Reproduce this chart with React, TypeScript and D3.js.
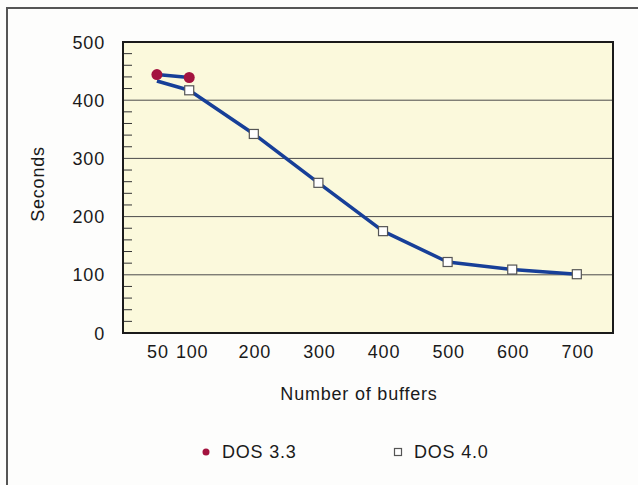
import React from "react";
import * as d3 from "d3";

const dos33Buffers = [50, 100];
const dos33Seconds = [444, 439];
const dos40Buffers = [50, 100, 200, 300, 400, 500, 600, 700];
const dos40Seconds = [433, 417, 342, 258, 175, 122, 109, 101];
const xTickValues = [50, 100, 200, 300, 400, 500, 600, 700];
const yTickValues = [0, 100, 200, 300, 400, 500];
const yMinorValues = d3.range(0, 500, 20).filter((v) => v % 100 !== 0);
const seriesNames = ["DOS 3.3", "DOS 4.0"];

const W = 638;
const H = 485;
const plot = { left: 123, top: 42, right: 613, bottom: 333 };
const FONT = "'Liberation Sans', Arial, Helvetica, sans-serif";
const FS = 18;
const LS = 0.8;

export default function App() {
  const x = d3.scaleLinear().domain([-2.5, 756]).range([plot.left, plot.right]);
  const y = d3.scaleLinear().domain([0, 500]).range([plot.bottom, plot.top]);
  const line = d3
    .line<[number, number]>()
    .x((d) => x(d[0]))
    .y((d) => y(d[1]))
    .curve(d3.curveLinear);
  const d33 = dos33Buffers.map((b, i) => [b, dos33Seconds[i]] as [number, number]);
  const d40 = dos40Buffers.map((b, i) => [b, dos40Seconds[i]] as [number, number]);
  const lineColor = "#173f98";
  const red = "#a3133f";
  const textColor = "#1a1a1a";

  return (
    <svg
      width={W}
      height={H}
      style={{ position: "absolute", left: 0, top: 0, background: "#fdfdfc" }}
      fontFamily={FONT}
    >
      {/* outer frame */}
      <path d={`M7,${H} L7,8 L${W},8`} fill="none" stroke="#555" strokeWidth={2} />
      {/* plot background */}
      <rect
        x={plot.left}
        y={plot.top}
        width={plot.right - plot.left}
        height={plot.bottom - plot.top}
        fill="#fbf9dc"
      />
      {/* grid */}
      {yTickValues
        .filter((v) => v > 0 && v < 500)
        .map((v) => (
          <line key={v} x1={plot.left} x2={plot.right} y1={y(v)} y2={y(v)} stroke="#4a4a4a" strokeWidth={1} />
        ))}
      {/* minor ticks */}
      {yMinorValues.map((v) => (
        <line key={v} x1={plot.left} x2={plot.left + 9} y1={y(v)} y2={y(v)} stroke="#333" strokeWidth={1} />
      ))}
      <rect
        x={plot.left}
        y={plot.top}
        width={plot.right - plot.left}
        height={plot.bottom - plot.top}
        fill="none"
        stroke="#1a1a1a"
        strokeWidth={2}
      />
      {/* y labels */}
      {yTickValues.map((v) => (
        <text key={v} x={105} y={y(v) + 6.5} textAnchor="end" fontSize={FS} letterSpacing={LS} fill={textColor}>
          {v}
        </text>
      ))}
      <text
        transform={`translate(44,184) rotate(-90)`}
        textAnchor="middle"
        fontSize={FS}
        letterSpacing={LS}
        fill={textColor}
      >
        Seconds
      </text>
      {/* x labels */}
      {xTickValues.map((v) => (
        <text key={v} x={x(v) + (v === 100 ? 3 : 1)} y={358} textAnchor="middle" fontSize={FS} letterSpacing={LS} fill={textColor}>
          {v}
        </text>
      ))}
      <text x={359} y={400} textAnchor="middle" fontSize={FS} letterSpacing={LS} fill={textColor}>
        Number of buffers
      </text>
      {/* lines */}
      <path d={line(d40) || ""} fill="none" stroke={lineColor} strokeWidth={3.5} strokeLinejoin="round" />
      <path d={line(d33) || ""} fill="none" stroke={lineColor} strokeWidth={3.5} />
      {/* markers (first DOS 4.0 point has no visible marker in the original) */}
      {d40.slice(1).map((d, i) => (
        <rect
          key={i}
          x={x(d[0]) - 4.5}
          y={y(d[1]) - 4.5}
          width={9}
          height={9}
          fill="#fff"
          stroke="#555"
          strokeWidth={1.2}
        />
      ))}
      {d33.map((d, i) => (
        <circle key={i} cx={x(d[0])} cy={y(d[1])} r={5.5} fill={red} />
      ))}
      {/* legend */}
      <circle cx={206} cy={452} r={3.5} fill={red} />
      <text x={222} y={458} fontSize={FS} letterSpacing={LS} fill={textColor}>
        {seriesNames[0]}
      </text>
      <rect x={394.5} y={448.5} width={7} height={7} fill="#fff" stroke="#555" strokeWidth={1.2} />
      <text x={414} y={458} fontSize={FS} letterSpacing={LS} fill={textColor}>
        {seriesNames[1]}
      </text>
    </svg>
  );
}
